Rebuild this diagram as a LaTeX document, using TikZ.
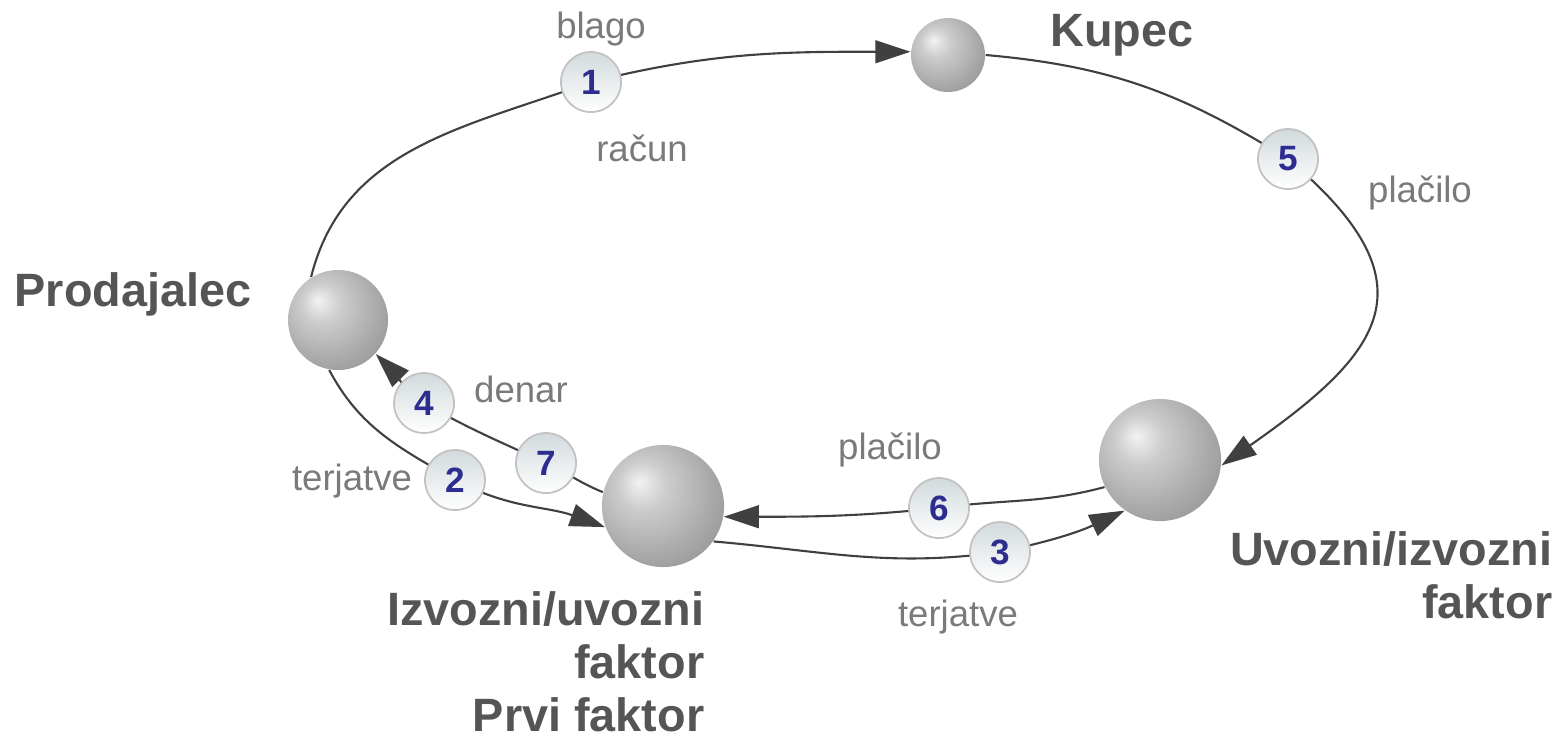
\documentclass[tikz,border=0pt]{standalone}
\usepackage{fontspec}
\setmainfont{Liberation Sans}
\usetikzlibrary{arrows.meta,backgrounds}
\definecolor{lblgray}{HTML}{7A7A7A}
\definecolor{boldgray}{HTML}{555555}
\definecolor{numblue}{RGB}{45,45,145}
\definecolor{linegray}{HTML}{404040}
\definecolor{circtop}{HTML}{D2DADD}
\definecolor{circedge}{HTML}{C2C2C2}
\pgfdeclareradialshading{sph}{\pgfpoint{-10bp}{10bp}}{color(0bp)=(black!5); color(10bp)=(black!20); color(25bp)=(black!33); color(40bp)=(black!45); color(50bp)=(black!53); color(62bp)=(black!56)}
\begin{document}
\begin{tikzpicture}[x=0.01cm,y=-0.01cm,
  sphere/.style={circle, inner sep=0, shading=sph},
  numc/.style={circle, minimum size=0.6cm, inner sep=0, draw=circedge, line width=0.5pt,
    top color=circtop, bottom color=white, text=numblue,
    font=\fontsize{10}{12}\selectfont\bfseries},
  lbl/.style={font=\fontsize{10.4}{12}\selectfont, text=lblgray, inner sep=0},
  big/.style={font=\fontsize{13.3}{15}\selectfont\bfseries, text=boldgray, inner sep=0, align=right},
  arr/.style={draw=linegray, line width=0.6pt, -{Triangle[length=10pt,width=6.5pt]}}]
\useasboundingbox (0,0) rectangle (1564,741);

% spheres
\node[sphere, minimum size=0.74cm] (kupec) at (948,55) {};
\node[sphere, minimum size=1.0cm] (prod) at (338,320) {};
\node[sphere, minimum size=1.22cm] (izf) at (663,506) {};
\node[sphere, minimum size=1.22cm] (ufak) at (1160,460) {};

% number circles
\node[numc] (c1) at (591,82) {1};
\node[numc] (c2) at (455,480) {2};
\node[numc] (c3) at (1000,552) {3};
\node[numc] (c4) at (424,403) {4};
\node[numc] (c5) at (1288,159) {5};
\node[numc] (c6) at (939,508) {6};
\node[numc] (c7) at (546,463) {7};

% connectors
\begin{scope}[on background layer]
\draw[arr] (prod.122) to[out=76,in=200] (c1.center) to[out=14,in=180] (kupec.175);
\draw[arr] (kupec.east) to[out=-5,in=148] (c5.center) to[out=-40,in=35,looseness=1.6] (ufak.-5);
\draw[arr] (prod.-100) to[out=-62,in=150] (c2.center) to[out=-28,in=160] (izf.200);
\draw[arr] (izf.167) to[out=158,in=-25] (c7.center) to[out=155,in=-30] (c4.center) to[out=145,in=-45] (prod.-42);
\draw[arr] (ufak.206) to[out=195,in=8] (c6.center) to[out=186,in=0] (izf.-10);
\draw[arr] (izf.-35) to[out=-5,in=188] (c3.center) to[out=12,in=205] (ufak.-125);
\end{scope}

% labels
\node[lbl] (tblago) at (601,29) {blago};
\node[lbl] (tracun) at (642,148) {račun};
\node[lbl] (tplac1) at (1420,193) {plačilo};
\node[lbl] (tdenar) at (521,389) {denar};
\node[lbl] (tterj1) at (352,481) {terjatve};
\node[lbl] (tplac2) at (890,450) {plačilo};
\node[lbl] (tterj2) at (958,617) {terjatve};

\node[big] (tkupec) at (1122,35) {Kupec};
\node[big] (tprod) at (133,294) {Prodajalec};
\node[big, anchor=north east] (tizf) at (705,591) {Izvozni/uvozni\\faktor\\Prvi faktor};
\node[big, anchor=north east] (tufak) at (1553,531) {Uvozni/izvozni\\faktor};
\end{tikzpicture}
\end{document}
